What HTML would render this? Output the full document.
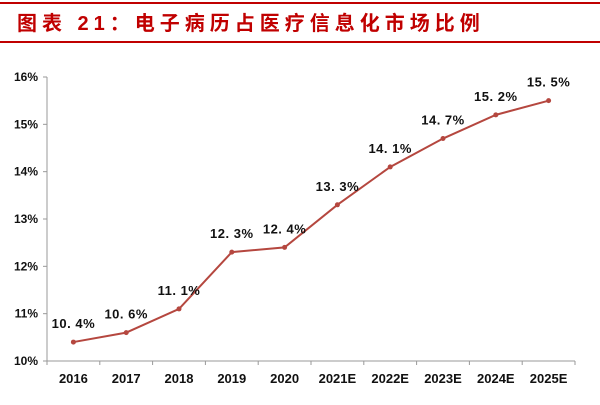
<!DOCTYPE html>
<html><head><meta charset="utf-8"><style>
body{margin:0;width:600px;height:400px;background:#fff;overflow:hidden;font-family:"Liberation Sans","Noto Sans CJK SC",sans-serif}
</style></head><body>
<svg width="600" height="400">
<line x1="0" y1="3" x2="600" y2="3" stroke="#c00000" stroke-width="2"/>
<line x1="0" y1="42" x2="600" y2="42" stroke="#c00000" stroke-width="2"/>
<text x="17" y="30" font-size="20" font-weight="bold" fill="#c00000" font-family="'Liberation Sans','Noto Sans CJK SC',sans-serif" letter-spacing="5">图表 21：电子病历占医疗信息化市场比例</text>
<g id="axes"></g><g id="marks"></g>
</svg>
<script>
const categories=["2016","2017","2018","2019","2020","2021E","2022E","2023E","2024E","2025E"];
const values=[10.4,10.6,11.1,12.3,12.4,13.3,14.1,14.7,15.2,15.5];
const valueLabels=["10. 4%","10. 6%","11. 1%","12. 3%","12. 4%","13. 3%","14. 1%","14. 7%","15. 2%","15. 5%"];
const yTicks=[10,11,12,13,14,15,16];
const NS="http://www.w3.org/2000/svg";
const x0=47,x1=575,yMin=10,yMax=16,yB=361,yT=77;
const band=(x1-x0)/categories.length;
const xs=i=>x0+band*(i+0.5);
const ys=v=>yB-(v-yMin)/(yMax-yMin)*(yB-yT);
function mk(t,a,p){const e=document.createElementNS(NS,t);for(const k in a)e.setAttribute(k,a[k]);p.appendChild(e);return e;}
const ax=document.getElementById('axes'),mg=document.getElementById('marks');
let l=mk('line',{x1:x0,y1:yT,x2:x0,y2:yB,stroke:'#999'},ax);


l=mk('line',{x1:x0,y1:yB,x2:x1,y2:yB,stroke:'#999'},ax);


yTicks.forEach(v=>{
 const y=ys(v);
 mk('line',{x1:x0-4,y1:y,x2:x0,y2:y,stroke:'#999'},ax);
 const t=mk('text',{x:x0-9,y:y+4,'text-anchor':'end','font-size':12,'font-weight':'bold',fill:'#111'},ax);
 t.textContent=v+'%';
 
 
});
for(let i=0;i<=categories.length;i++){mk('line',{x1:x0+band*i,y1:yB,x2:x0+band*i,y2:yB+4,stroke:'#999'},ax);}
categories.forEach((c,i)=>{
 const t=mk('text',{x:xs(i),y:yB+22,'text-anchor':'middle','font-size':13,'font-weight':'bold',fill:'#111'},ax);
 t.textContent=c;
 
 
});
const p=mk('polyline',{points:values.map((v,i)=>xs(i)+','+ys(v)).join(' '),fill:'none',stroke:'#b5473f','stroke-width':2},mg);


values.forEach((v,i)=>{
 const c=mk('circle',{cx:xs(i),cy:ys(v),r:2.5,fill:'#b5473f'},mg);
 
 
 const t=mk('text',{x:xs(i),y:ys(v)-14,'text-anchor':'middle','font-size':13,'font-weight':'600','letter-spacing':'0.5',fill:'#111','font-family':'Liberation Sans,sans-serif'},mg);
 t.textContent=valueLabels[i];
 
 
});
</script>
</body></html>
